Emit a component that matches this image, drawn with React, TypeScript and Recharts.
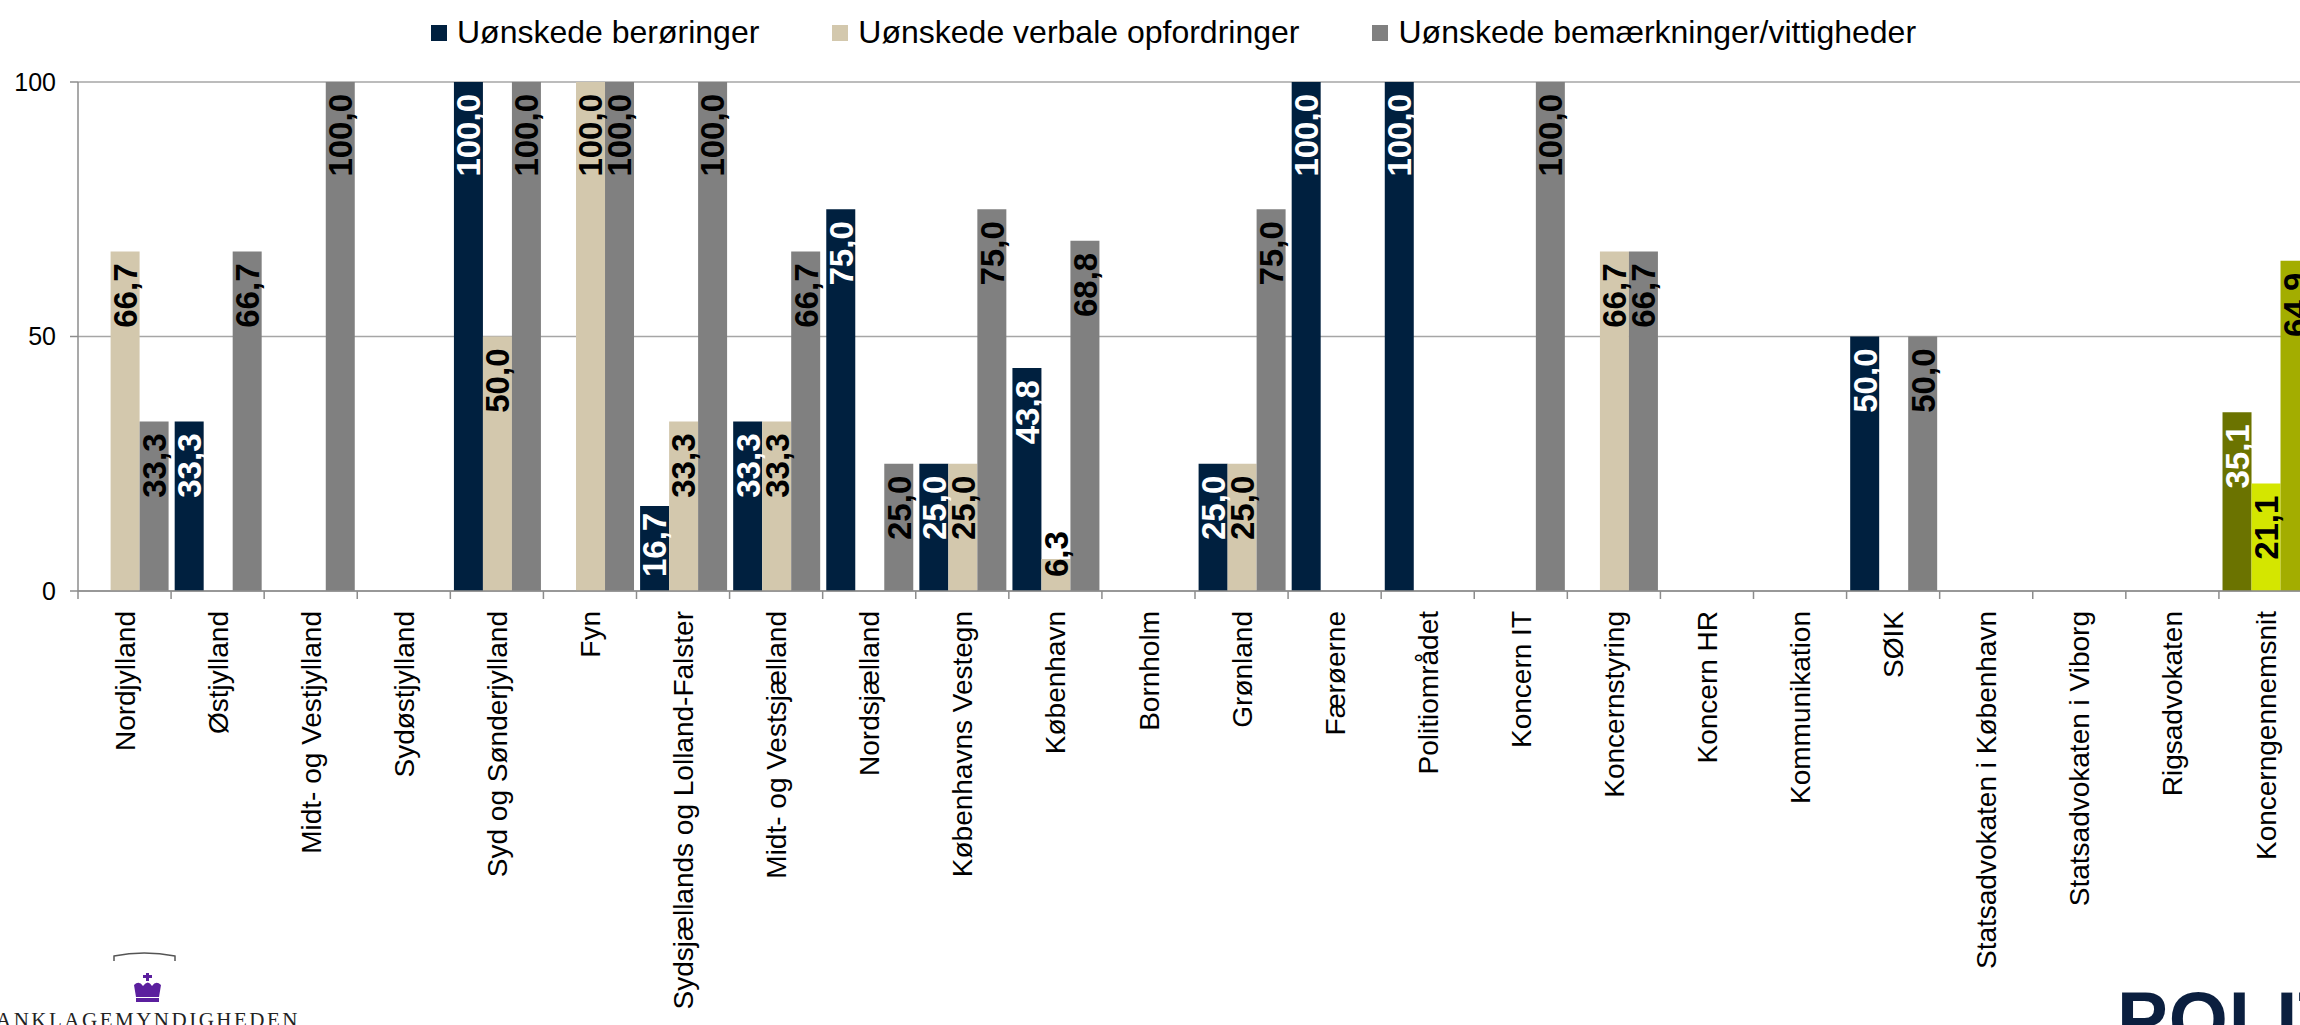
import React from 'react';
import { BarChart, Bar, XAxis, YAxis, CartesianGrid, Legend, LabelList, Cell } from 'recharts';

const categories = [
  'Nordjylland',
  'Østjylland',
  'Midt- og Vestjylland',
  'Sydøstjylland',
  'Syd og Sønderjylland',
  'Fyn',
  'Sydsjællands og Lolland-Falster',
  'Midt- og Vestsjælland',
  'Nordsjælland',
  'Københavns Vestegn',
  'København',
  'Bornholm',
  'Grønland',
  'Færøerne',
  'Politiområdet',
  'Koncern IT',
  'Koncernstyring',
  'Koncern HR',
  'Kommunikation',
  'SØIK',
  'Statsadvokaten i København',
  'Statsadvokaten i Viborg',
  'Rigsadvokaten',
  'Koncerngennemsnit',
];

const beroringer = [0, 33.3, 0, 0, 100, 0, 16.7, 33.3, 75, 25, 43.8, 0, 25, 100, 100, 0, 0, 0, 0, 50, 0, 0, 0, 35.1];
const verbale = [66.7, 0, 0, 0, 50, 100, 33.3, 33.3, 0, 25, 6.3, 0, 25, 0, 0, 0, 66.7, 0, 0, 0, 0, 0, 0, 21.1];
const bemaerkninger = [33.3, 66.7, 100, 0, 100, 100, 100, 66.7, 25, 75, 68.8, 0, 75, 0, 0, 100, 66.7, 0, 0, 50, 0, 0, 0, 64.9];

const seriesNames = ['Uønskede berøringer', 'Uønskede verbale opfordringer', 'Uønskede bemærkninger/vittigheder'];
const seriesColors = ['#00203f', '#d3c8ad', '#808080'];
const averageColors = ['#6b7300', '#d4e600', '#a3ad00'];
const labelColors = ['#ffffff', '#000000', '#000000'];
const yTicks = [0, 50, 100];

const data = categories.map((name, i) => ({
  name,
  s0: beroringer[i],
  s1: verbale[i],
  s2: bemaerkninger[i],
}));

const FONT = '"Liberation Sans", Arial, sans-serif';
const AXIS = '#8c8c8c';
const GRID = '#a6a6a6';
const CHART_W = 2312;
const CHART_H = 1025;
const Y_AXIS_W = 78;
const X_AXIS_H = 434;
const BAND = (CHART_W - Y_AXIS_W) / categories.length;
const LABEL_SIZE = 33;

function textLen(s: string) {
  let w = 0;
  for (const c of s) w += c === ',' ? 0.278 : 0.556;
  return w * LABEL_SIZE;
}

// inside end, but kept clear of the baseline like Excel does
const makeLabel = (color: string) => (props: any) => {
  const { x, y, width, height, value } = props;
  if (!value) return null;
  const text = Number(value).toFixed(1).replace('.', ',');
  const len = textLen(text);
  const cx = Number(x) + Number(width) / 2;
  const top = Number(y);
  const base = top + Number(height);
  const ay = Math.min(top + 12, base - 14 - len);
  return (
    <text
      transform={`translate(${cx},${ay}) rotate(-90)`}
      textAnchor="end"
      dy="0.36em"
      fill={color}
      fontSize={LABEL_SIZE}
      fontWeight="bold"
      fontFamily={FONT}
    >
      {text}
    </text>
  );
};

const XTick = (props: any) => {
  const { x, y, payload } = props;
  const axisY = y - 20;
  const bx = x - BAND / 2;
  return (
    <g>
      <line x1={bx} x2={bx} y1={axisY} y2={axisY + 8} stroke={AXIS} strokeWidth={1.5} />
      <text
        transform={`translate(${x},${y}) rotate(-90)`}
        textAnchor="end"
        dy="0.36em"
        fontSize={28}
        fontFamily={FONT}
        fill="#000"
      >
        {payload.value}
      </text>
    </g>
  );
};

const renderLegend = () => (
  <div style={{ display: 'flex', alignItems: 'center', fontFamily: FONT, fontSize: 32, lineHeight: '32px', whiteSpace: 'nowrap' }}>
    {seriesNames.map((n, i) => (
      <div key={n} style={{ display: 'flex', alignItems: 'center', marginRight: 73 }}>
        <span style={{ display: 'inline-block', width: 16, height: 16, background: seriesColors[i], marginRight: 10, marginTop: 2 }} />
        <span style={{ color: '#000' }}>{n}</span>
      </div>
    ))}
  </div>
);

export default function App() {
  return (
    <div style={{ position: 'absolute', left: 0, top: 0, width: 2300, height: 1025, overflow: 'hidden', background: '#fff' }}>
      <BarChart
        width={CHART_W}
        height={CHART_H}
        data={data}
        margin={{ top: 82, right: 0, left: 0, bottom: 0 }}
        barCategoryGap={3.6}
        barGap={0}
      >
        <CartesianGrid vertical={false} stroke={GRID} strokeWidth={1.5} />
        <XAxis
          dataKey="name"
          interval={0}
          height={X_AXIS_H}
          tick={XTick}
          tickLine={false}
          tickSize={8}
          tickMargin={12}
          axisLine={{ stroke: AXIS, strokeWidth: 1.5 }}
        />
        <YAxis
          width={Y_AXIS_W}
          domain={[0, 100]}
          ticks={yTicks}
          tickSize={8}
          tickMargin={14}
          tickLine={{ stroke: AXIS, strokeWidth: 1.5 }}
          axisLine={{ stroke: AXIS, strokeWidth: 1.5 }}
          tick={{ fontSize: 25, fill: '#000', fontFamily: FONT }}
        />
        <Legend
          verticalAlign="middle"
          align="center"
          content={renderLegend}
          wrapperStyle={{ position: 'absolute', top: 16, left: 431, width: 'auto' }}
        />
        {['s0', 's1', 's2'].map((key, si) => (
          <Bar key={key} dataKey={key} name={seriesNames[si]} fill={seriesColors[si]} isAnimationActive={false}>
            {data.map((_, i) => (
              <Cell key={i} fill={i === data.length - 1 ? averageColors[si] : seriesColors[si]} />
            ))}
            <LabelList dataKey={key} content={makeLabel(labelColors[si])} />
          </Bar>
        ))}
      </BarChart>

      {/* logo bottom left */}
      <svg style={{ position: 'absolute', left: 110, top: 948 }} width={70} height={60}>
        <path d="M4 13 L4 8 Q34 2 65 8 L65 13" stroke="#555" strokeWidth={1.5} fill="none" />
        <g fill="#5b1f9e" transform="translate(23,25)">
          <rect x={13} y={0} width={3} height={8} />
          <rect x={10} y={2} width={9} height={3} />
          <path d="M1 12 Q6 7 10 13 Q15 6 19 13 Q23 7 28 12 L26 24 L3 24 Z" />
          <rect x={3} y={25} width={23} height={4} />
        </g>
      </svg>
      <div
        style={{
          position: 'absolute',
          left: -4,
          top: 1010,
          fontFamily: '"Liberation Serif", serif',
          fontSize: 21,
          lineHeight: '21px',
          letterSpacing: 2.5,
          color: '#222',
          whiteSpace: 'nowrap',
        }}
      >
        ANKLAGEMYNDIGHEDEN
      </div>
      {/* logo bottom right */}
      <div
        style={{
          position: 'absolute',
          left: 2117,
          top: 981,
          fontFamily: FONT,
          fontWeight: 'bold',
          fontSize: 76,
          lineHeight: '76px',
          letterSpacing: 1,
          color: '#0b1f3f',
          whiteSpace: 'nowrap',
        }}
      >
        POLITI
      </div>
    </div>
  );
}
